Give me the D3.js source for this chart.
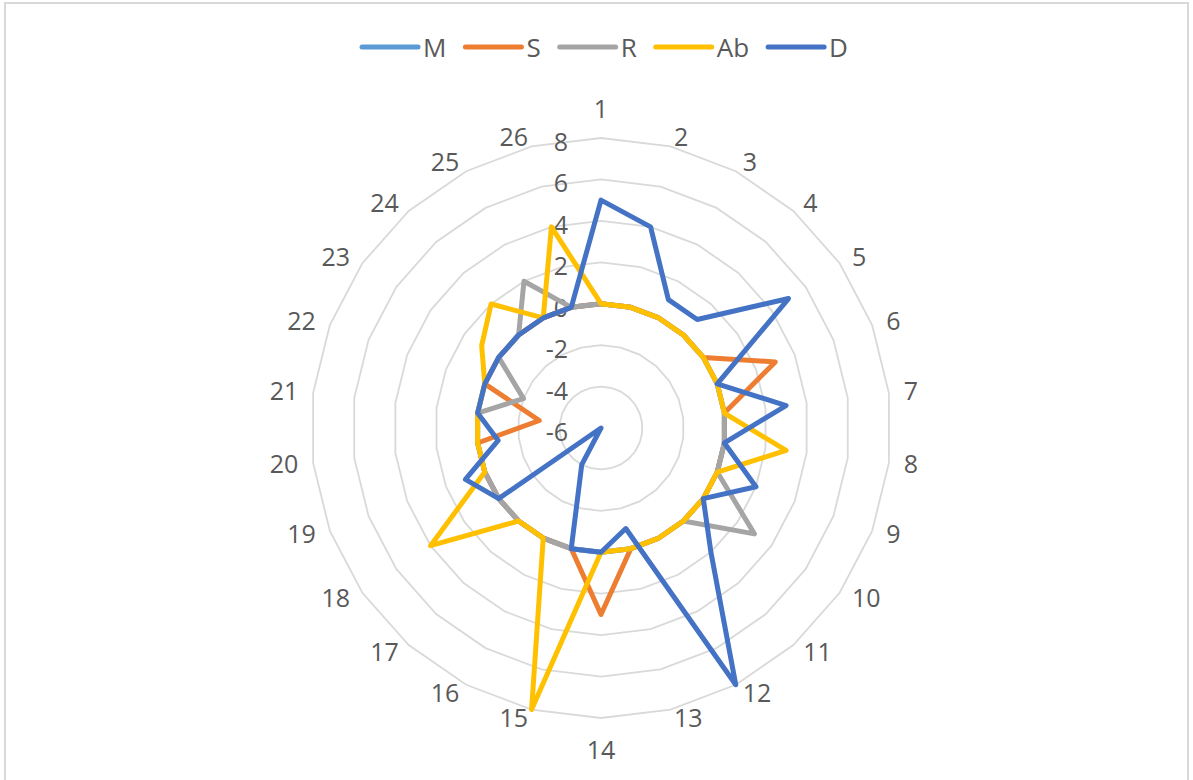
<!DOCTYPE html>
<html>
<head>
<meta charset="utf-8">
<script src="https://cdn.jsdelivr.net/npm/d3@7"></script>
<style>
  html, body { margin: 0; padding: 0; background: #ffffff; }
  svg { display: block; }
  text { font-family: "Open Sans", "Liberation Sans", sans-serif; fill: #595959; }
</style>
</head>
<body>
<svg id="chart" width="1193" height="780"></svg>
<script>
// Radar chart: five series over 26 numbered categories
const categories = ["1","2","3","4","5","6","7","8","9","10","11","12","13",
                    "14","15","16","17","18","19","20","21","22","23","24","25","26"];
const seriesNames = ["M", "S", "R", "Ab", "D"];
const seriesColors = ["#5B9BD5", "#ED7D31", "#A5A5A5", "#FFC000", "#4472C4"];

const valuesM  = [0,0,0,0,0,0,0,0,0,0,0,0,0,0,0,0,0,0,0,0,0,0,0,0,0,0];
const valuesS  = [0,0,0,0,0,3,0,0,0,0,0,0,0,3,0,0,0,0,0,0,-3,0,0,0,0,0];
const valuesR  = [0,0,0,0,0,0,0,0,0,3,0,0,0,0,0,0,0,0,0,0,0,-2,0,0,2,0];
const valuesAb = [0,0,0,0,0,0,0,3,0,0,0,0,0,0,8,0,0,4,0,0,0,0,1,2,0,4];
const valuesD  = [5,4,1,1,5,0,3,0,2,0,2,8,-1,0,0,-4,-6,0,1,-1,0,0,0,0,0,0];

const radialTicks = [-6, -4, -2, 0, 2, 4, 6, 8];

const allSeries = [valuesM, valuesS, valuesR, valuesAb, valuesD];

const cx = 601, cy = 428, outerR = 290;

const svg = d3.select("#chart");

// chart area border
svg.append("rect")
  .attr("x", 5).attr("y", 3)
  .attr("width", 1183).attr("height", 800)
  .attr("fill", "none")
  .attr("stroke", "#d9d9d9")
  .attr("stroke-width", 2);

const rScale = d3.scaleLinear()
  .domain([d3.min(radialTicks), d3.max(radialTicks)])
  .range([0, outerR]);

const angle = d3.scaleLinear()
  .domain([0, categories.length])
  .range([0, 2 * Math.PI]);

const g = svg.append("g").attr("transform", `translate(${cx},${cy})`);

// polygonal gridlines
const ringLine = d3.lineRadial()
  .angle((d, i) => angle(i))
  .radius(d => rScale(d))
  .curve(d3.curveLinearClosed);

g.append("g").selectAll("path")
  .data(radialTicks.filter(t => rScale(t) > 0))
  .join("path")
  .attr("d", t => ringLine(categories.map(() => t)))
  .attr("fill", "none")
  .attr("stroke", "#d9d9d9")
  .attr("stroke-width", 1.8);

// value axis labels
g.append("g").selectAll("text")
  .data(radialTicks)
  .join("text")
  .attr("x", -33)
  .attr("y", t => -rScale(t) + 3)
  .attr("text-anchor", "end")
  .attr("dominant-baseline", "central")
  .style("font-size", "25px")
  .text(t => t);

// category labels: anchored just outside the outer ring
const labelR = outerR + 15;
g.append("g").selectAll("text")
  .data(categories)
  .join("text")
  .style("font-size", "25px")
  .attr("dominant-baseline", "central")
  .each(function(d, i) {
    const a = angle(i);
    const s = Math.sin(a), c = Math.cos(a);
    const sel = d3.select(this);
    let x = labelR * s, y = -(labelR - 5.5) * c - 1.5;
    if (Math.abs(s) < 0.01) {
      sel.attr("text-anchor", "middle");
      y = -labelR * c + (c > 0 ? -15 : 16);
    } else {
      sel.attr("text-anchor", s > 0 ? "start" : "end");
    }
    sel.attr("x", x).attr("y", y);
  })
  .text(d => d);

// series lines
const seriesLine = d3.lineRadial()
  .angle((d, i) => angle(i))
  .radius(d => rScale(d))
  .curve(d3.curveLinearClosed);

g.append("g").selectAll("path")
  .data(allSeries)
  .join("path")
  .attr("d", d => seriesLine(d))
  .attr("fill", "none")
  .attr("stroke", (d, i) => seriesColors[i])
  .attr("stroke-width", 5)
  .attr("stroke-linejoin", "round")
  .attr("stroke-linecap", "round");

// legend
const legend = svg.append("g");
const lineLen = 56, textGap = 5, itemGap = 19, legendY = 47;
let xPos = 0;
seriesNames.forEach((name, i) => {
  const item = legend.append("g").attr("transform", `translate(${xPos},0)`);
  item.append("line")
    .attr("x1", 0).attr("x2", lineLen)
    .attr("y1", legendY).attr("y2", legendY)
    .attr("stroke", seriesColors[i])
    .attr("stroke-width", 5)
    .attr("stroke-linecap", "round");
  const t = item.append("text")
    .attr("x", lineLen + textGap)
    .attr("y", legendY)
    .attr("dominant-baseline", "central")
    .style("font-size", "26px")
    .text(name);
  xPos += lineLen + textGap + t.node().getComputedTextLength() + itemGap;
});
const legendWidth = xPos - itemGap;
legend.attr("transform", `translate(${605 - legendWidth / 2},0)`);
</script>
</body>
</html>
